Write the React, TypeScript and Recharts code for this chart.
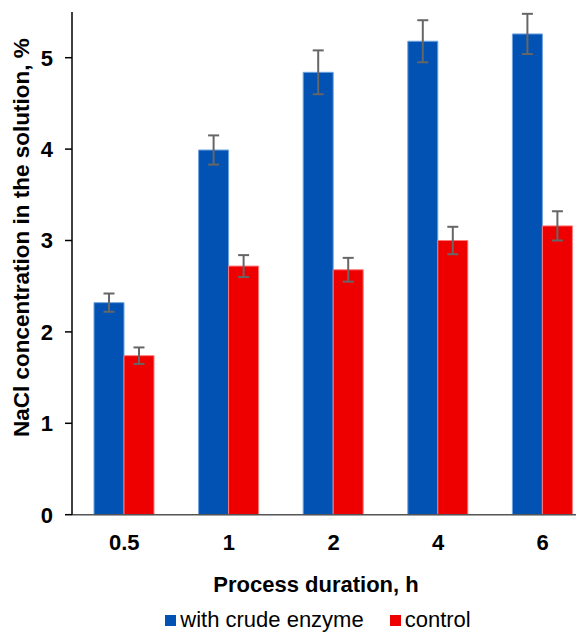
import { BarChart, Bar, XAxis, YAxis, ErrorBar, Legend } from "recharts";

const durations = ["0.5", "1", "2", "4", "6"];
const enzymeValues = [2.32, 3.99, 4.84, 5.18, 5.26];
const enzymeErrors = [0.1, 0.16, 0.24, 0.23, 0.22];
const controlValues = [1.74, 2.72, 2.68, 3.0, 3.16];
const controlErrors = [0.09, 0.12, 0.13, 0.15, 0.16];
const yTicks = [0, 1, 2, 3, 4, 5];

const seriesNames = ["with crude enzyme", "control"];
const BLUE = "#0152b2";
const RED = "#ee0000";
const FONT = '"Liberation Sans", Arial, sans-serif';

const data = durations.map((d, i) => ({
  duration: d,
  enzyme: enzymeValues[i],
  enzymeErr: enzymeErrors[i],
  control: controlValues[i],
  controlErr: controlErrors[i],
}));

function LegendContent() {
  const items = [
    { name: seriesNames[0], color: BLUE },
    { name: seriesNames[1], color: RED },
  ];
  return (
    <div style={{ display: "flex", justifyContent: "center", alignItems: "center", gap: 26, height: 22 }}>
      {items.map((it) => (
        <div key={it.name} style={{ display: "flex", alignItems: "center" }}>
          <span style={{ display: "inline-block", width: 11, height: 11, background: it.color, marginRight: 4 }} />
          <span style={{ fontSize: 22, color: "#000", fontFamily: FONT, lineHeight: "22px" }}>{it.name}</span>
        </div>
      ))}
    </div>
  );
}

export default function App() {
  return (
    <div style={{ width: 576, height: 624, overflow: "hidden" }}>
      <BarChart
        width={600}
        height={623}
        data={data}
        margin={{ top: 4, right: 13, bottom: 0, left: 0 }}
        barGap={0}
        barSize={30}
        style={{ fontFamily: FONT }}
      >
        <XAxis
          dataKey="duration"
          height={94.3}
          tickLine={false}
          tickSize={0}
          tickMargin={20}
          axisLine={{ stroke: "#555", strokeWidth: 1.5 }}
          tick={{ fill: "#000", fontSize: 22, fontWeight: "bold", fontFamily: FONT }}
          label={{
            content: (props: any) => {
              const vb = props.viewBox;
              return (
                <text
                  x={308}
                  y={vb.y + 77}
                  textAnchor="middle"
                  fontSize={22}
                  fontWeight="bold"
                  fontFamily={FONT}
                  fill="#000"
                >
                  Process duration, h
                </text>
              );
            },
          }}
        />
        <YAxis
          width={64}
          domain={[0, 5.5]}
          ticks={yTicks}
          tickSize={7}
          tickMargin={12}
          axisLine={{ stroke: "#000", strokeWidth: 1.5 }}
          tickLine={{ stroke: "#000", strokeWidth: 1.5 }}
          tick={{ fill: "#000", fontSize: 22, fontWeight: "bold", fontFamily: FONT }}
          label={{
            content: () => (
              <text
                x={21}
                y={429}
                transform="rotate(-90, 21, 429)"
                textAnchor="start"
                fontSize={22.5}
                fontWeight="bold"
                fontFamily={FONT}
                fill="#000"
              >
                NaCl concentration in the solution, %
              </text>
            ),
          }}
        />
        <Legend
          verticalAlign="bottom"
          height={22}
          wrapperStyle={{ left: 0, width: 620 }}
          content={<LegendContent />}
        />
        <Bar dataKey="enzyme" name={seriesNames[0]} fill={BLUE} stroke="#6fa3e0" strokeWidth={1} isAnimationActive={false}>
          <ErrorBar dataKey="enzymeErr" width={5.5} stroke="#666" strokeWidth={2} isAnimationActive={false} />
        </Bar>
        <Bar dataKey="control" name={seriesNames[1]} fill={RED} stroke="#ff7a7a" strokeWidth={1} isAnimationActive={false}>
          <ErrorBar dataKey="controlErr" width={5.5} stroke="#666" strokeWidth={2} isAnimationActive={false} />
        </Bar>
      </BarChart>
    </div>
  );
}
